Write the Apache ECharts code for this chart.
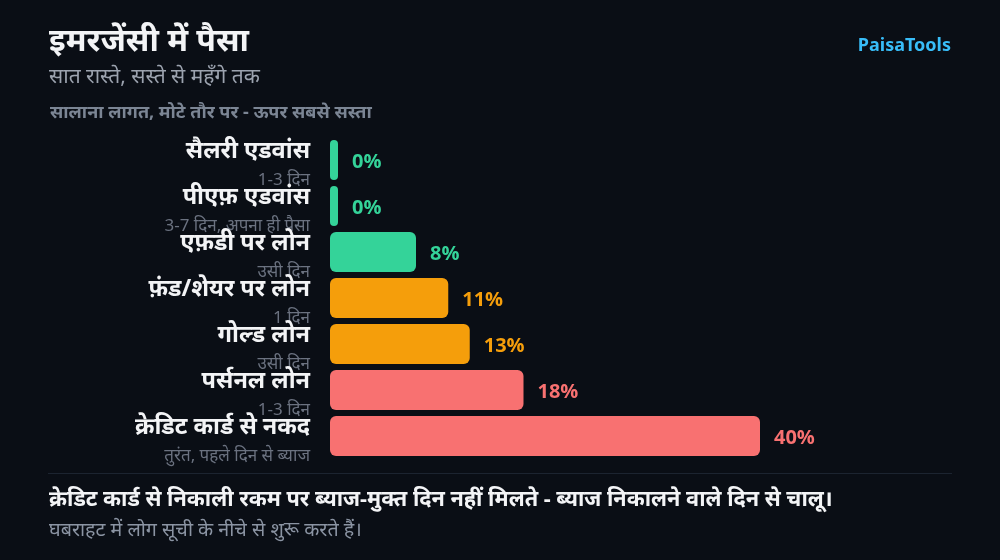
<!DOCTYPE html>
<html>
<head>
<meta charset="utf-8">
<script src="https://cdn.jsdelivr.net/npm/echarts@6/dist/echarts.min.js"></script>
<style>
html,body{margin:0;padding:0;background:#0a0e15;}
#c{width:1000px;height:560px;}
</style>
</head>
<body>
<div id="c"></div>
<script>
const categories = ['सैलरी एडवांस','पीएफ़ एडवांस','एफ़डी पर लोन','फ़ंड/शेयर पर लोन','गोल्ड लोन','पर्सनल लोन','क्रेडिट कार्ड से नकद'];
const subLabels = ['1-3 दिन','3-7 दिन, अपना ही पैसा','उसी दिन','1 दिन','उसी दिन','1-3 दिन','तुरंत, पहले दिन से ब्याज'];
const values = [0, 0, 8, 11, 13, 18, 40];
const barColors = ['#34d399','#34d399','#34d399','#f59e0b','#f59e0b','#f87171','#f87171'];

const FONT = '"Noto Sans", "Open Sans", sans-serif';
const chart = echarts.init(document.getElementById('c'));
chart.setOption({
  backgroundColor: '#0a0e15',
  animation: false,
  textStyle: { fontFamily: FONT },
  title: [
    { text: 'इमरजेंसी में पैसा', left: 44, top: 21, textStyle: { color: '#f3f4f6', fontSize: 32, fontWeight: 'bold', fontFamily: FONT } },
    { text: 'सात रास्ते, सस्ते से महँगे तक', left: 44, top: 62, textStyle: { color: '#9ca3af', fontSize: 21, fontWeight: 'normal', fontFamily: FONT } },
    { text: 'सालाना लागत, मोटे तौर पर - ऊपर सबसे सस्ता', left: 45, top: 99, textStyle: { color: '#7b8594', fontSize: 18, fontWeight: 'bold', fontFamily: FONT } },
    { text: 'PaisaTools', right: 44, top: 32, textStyle: { color: '#38bdf8', fontSize: 18, fontWeight: 'bold', fontFamily: FONT } },
    { text: 'क्रेडिट कार्ड से निकाली रकम पर ब्याज-मुक्त दिन नहीं मिलते - ब्याज निकालने वाले दिन से चालू।', left: 44, top: 484, textStyle: { color: '#f3f4f6', fontSize: 21.7, fontWeight: 'bold', fontFamily: FONT } },
    { text: 'घबराहट में लोग सूची के नीचे से शुरू करते हैं।', left: 44, top: 515, textStyle: { color: '#8b94a3', fontSize: 19.7, fontWeight: 'normal', fontFamily: FONT } }
  ],
  graphic: [
    { type: 'line', shape: { x1: 48, y1: 473.5, x2: 952, y2: 473.5 }, style: { stroke: '#1c2430', lineWidth: 1 } }
  ],
  grid: { left: 330, top: 137, width: 430, height: 322, containLabel: false },
  xAxis: {
    type: 'value', min: 0, max: 40,
    show: false
  },
  yAxis: {
    type: 'category',
    inverse: true,
    data: categories,
    axisLine: { show: false },
    axisTick: { show: false },
    splitLine: { show: false },
    axisLabel: {
      margin: 20,
      interval: 0,
      showMinLabel: true,
      showMaxLabel: true,
      hideOverlap: false,
      formatter: function (v, i) { return '{n|' + v + '}\n{s|' + subLabels[i] + '}'; },
      rich: {
        n: { color: '#f3f4f6', fontSize: 23.5, fontWeight: 'bold', lineHeight: 40, align: 'right', fontFamily: FONT },
        s: { color: '#6b7280', fontSize: 17, lineHeight: 18, align: 'right', fontFamily: FONT }
      }
    }
  },
  series: [{
    type: 'bar',
    data: values.map(function (v, i) {
      return { value: v, itemStyle: { color: barColors[i] }, label: { color: barColors[i] } };
    }),
    barWidth: 40,
    barMinHeight: 8,
    itemStyle: { borderRadius: 6 },
    label: {
      show: true,
      position: 'right',
      distance: 14,
      offset: [0, 2],
      formatter: '{c}%',
      fontSize: 20,
      fontWeight: 'bold',
      fontFamily: '"Open Sans", "Noto Sans", sans-serif'
    }
  }]
});
</script>
</body>
</html>
